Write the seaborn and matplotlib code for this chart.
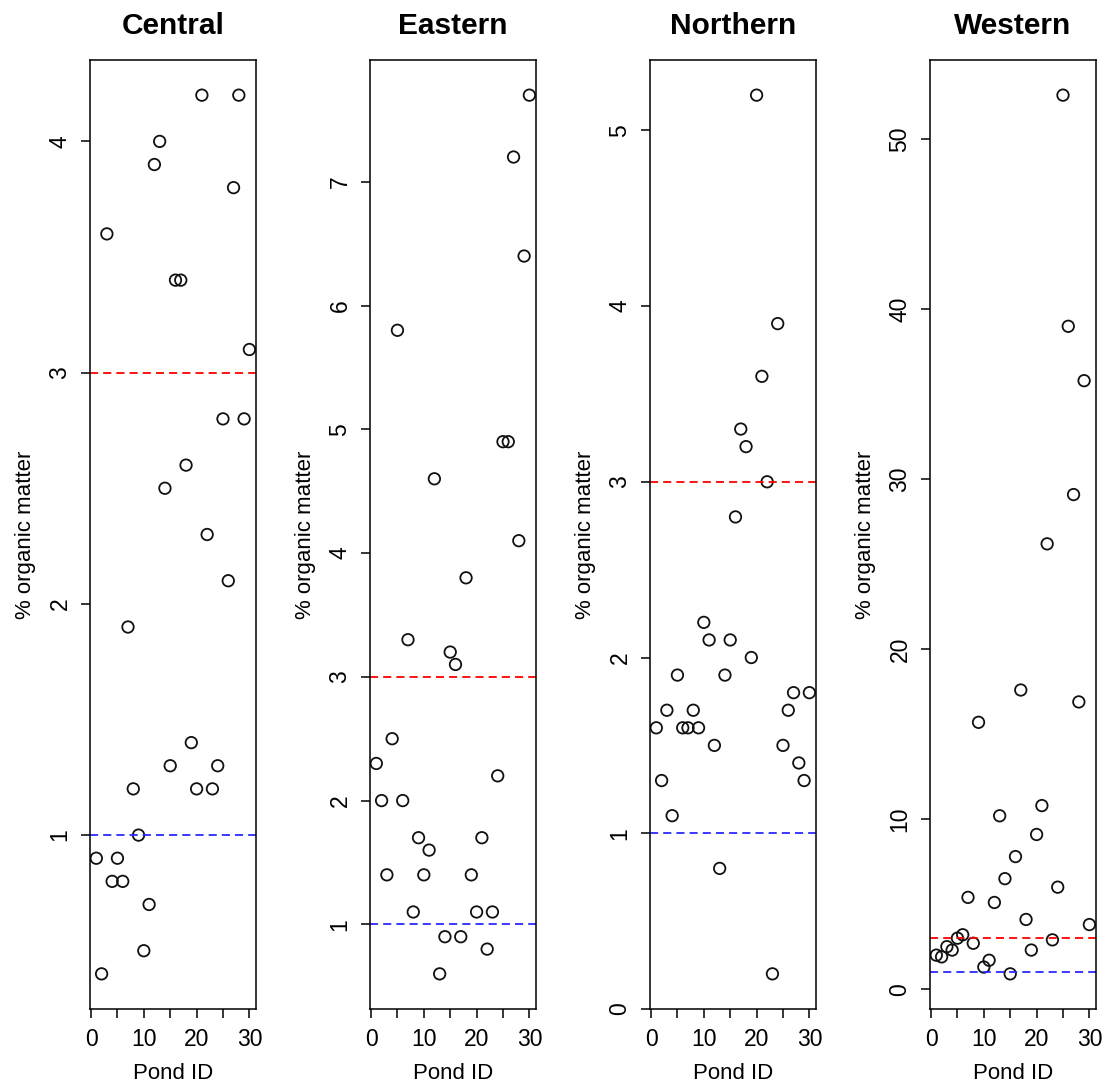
import matplotlib
matplotlib.use('Agg')
import matplotlib.pyplot as plt
import seaborn as sns
import pandas as pd

# pond ids and % organic matter per region
pond_ids = list(range(1, 31))
central = [0.9, 0.4, 3.6, 0.8, 0.9, 0.8, 1.9, 1.2, 1.0, 0.5,
           0.7, 3.9, 4.0, 2.5, 1.3, 3.4, 3.4, 2.6, 1.4, 1.2,
           4.2, 2.3, 1.2, 1.3, 2.8, 2.1, 3.8, 4.2, 2.8, 3.1]
eastern = [2.3, 2.0, 1.4, 2.5, 5.8, 2.0, 3.3, 1.1, 1.7, 1.4,
           1.6, 4.6, 0.6, 0.9, 3.2, 3.1, 0.9, 3.8, 1.4, 1.1,
           1.7, 0.8, 1.1, 2.2, 4.9, 4.9, 7.2, 4.1, 6.4, 7.7]
northern = [1.6, 1.3, 1.7, 1.1, 1.9, 1.6, 1.6, 1.7, 1.6, 2.2,
            2.1, 1.5, 0.8, 1.9, 2.1, 2.8, 3.3, 3.2, 2.0, 5.2,
            3.6, 3.0, 0.2, 3.9, 1.5, 1.7, 1.8, 1.4, 1.3, 1.8]
western = [2.0, 1.9, 2.5, 2.3, 3.0, 3.2, 5.4, 2.7, 15.7, 1.3,
           1.7, 5.1, 10.2, 6.5, 0.9, 7.8, 17.6, 4.1, 2.3, 9.1,
           10.8, 26.2, 2.9, 6.0, 52.6, 39.0, 29.1, 16.9, 35.8, 3.8]

regions = ['Central', 'Eastern', 'Northern', 'Western']
values = [central, eastern, northern, western]
y_ticks = [[1, 2, 3, 4], [1, 2, 3, 4, 5, 6, 7], [0, 1, 2, 3, 4, 5],
           [0, 10, 20, 30, 40, 50]]
x_ticks = [0, 5, 10, 15, 20, 25, 30]
x_labels = ['0', '', '10', '', '20', '', '30']
upper_line = 3
lower_line = 1

sns.set_theme(style='ticks')
plt.rcParams['font.family'] = ['Liberation Sans', 'DejaVu Sans']
plt.rcParams['text.color'] = 'black'
plt.rcParams['axes.labelcolor'] = 'black'
plt.rcParams['axes.edgecolor'] = 'black'
plt.rcParams['axes.linewidth'] = 1.1

fig = plt.figure(figsize=(11.03, 10.88), dpi=100)
W, H = 1103.0, 1088.0

for i, (name, vals) in enumerate(zip(regions, values)):
    left = (90.2 + 280 * i) / W
    ax = fig.add_axes([left, (H - 1009) / H, 165.3 / W, 949 / H])
    df = pd.DataFrame({'pond': pond_ids, 'om': vals})
    sns.scatterplot(data=df, x='pond', y='om', ax=ax, marker='o', s=68,
                    facecolors='none', edgecolor='#111111', linewidth=1.3)
    ax.axhline(upper_line, color='red', lw=1.3, ls=(0, (4.5, 2.8)))
    ax.axhline(lower_line, color='#2a2aff', lw=1.3, ls=(0, (4.5, 2.8)))

    # R-style 4% padding on both axes
    xr = max(pond_ids) - min(pond_ids)
    ax.set_xlim(min(pond_ids) - 0.04 * xr, max(pond_ids) + 0.04 * xr)
    yr = max(vals) - min(vals)
    ax.set_ylim(min(vals) - 0.04 * yr, max(vals) + 0.04 * yr)

    ax.set_xticks(x_ticks)
    ax.set_xticklabels(x_labels, fontsize=16.5)
    ax.set_yticks(y_ticks[i])
    ax.set_yticklabels([str(t) for t in y_ticks[i]], fontsize=16.5,
                       rotation=90, va='center')
    ax.tick_params(axis='both', direction='out', length=6.5, width=1.1,
                   color='black', labelcolor='black')
    ax.tick_params(axis='x', pad=7)
    ax.tick_params(axis='y', pad=7)
    for sp in ax.spines.values():
        sp.set_visible(True)
        sp.set_color('black')
        sp.set_linewidth(1.1)

    ax.set_title(name, fontsize=21.5, fontweight='bold', pad=19)
    ax.set_xlabel('Pond ID', fontsize=16, labelpad=9)
    ax.set_ylabel('% organic matter', fontsize=16, labelpad=9)

fig.savefig('out.png', dpi=100)
